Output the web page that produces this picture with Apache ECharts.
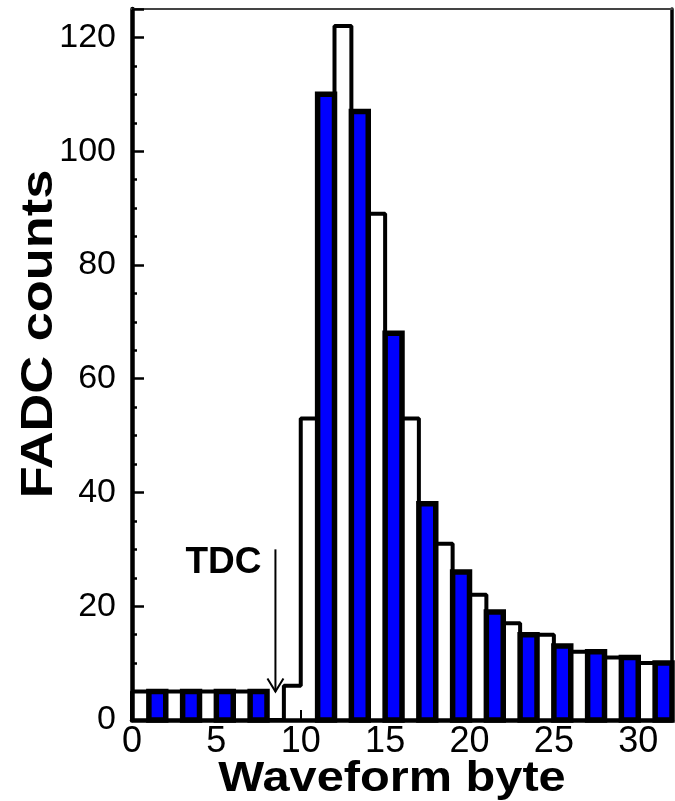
<!DOCTYPE html>
<html>
<head>
<meta charset="utf-8">
<style>
  html, body { margin: 0; padding: 0; background: #ffffff; }
  #chart { width: 675px; height: 801px; }
</style>
<script src="https://cdn.jsdelivr.net/npm/echarts@6/dist/echarts.min.js"></script>
</head>
<body>
<div id="chart"></div>
<script>
// ---- data ----
const binStarts = [0,1,2,3,4,5,6,7,8,9,10,11,12,13,14,15,16,17,18,19,20,21,22,23,24,25,26,27,28,29,30,31];
const counts    = [5,5,5,5,5,5,5,5,0,6,53,110,122,107,89,68,53,38,31,26,22,19,17,15,15,13,12,12,11,11,10,10];
const shaded    = [0,1,0,1,0,1,0,1,0,0,0,1,0,1,0,1,0,1,0,1,0,1,0,1,0,1,0,1,0,1,0,1];
const xTicks    = [0,5,10,15,20,25,30];
const yTicks    = [0,20,40,60,80,100,120];
const xTitle = 'Waveform byte';
const yTitle = 'FADC counts';
const tdcLabel = 'TDC';
const tdcX = 8.5, tdcTop = 30, tdcTip = 5;
const binWidth = 1;

const numFont = '"Liberation Sans", Arial, sans-serif';
const boldFont = '"Liberation Sans", Arial, sans-serif';

// step outline of the histogram built from the arrays
const stepData = [[binStarts[0], 0]];
binStarts.forEach((b, i) => stepData.push([b, counts[i]]));
const lastEdge = binStarts[binStarts.length - 1] + binWidth;
stepData.push([lastEdge, counts[counts.length - 1]]);
stepData.push([lastEdge, 0]);

const barData = binStarts.map((b, i) => [b, counts[i], shaded[i]]);

const chart = echarts.init(document.getElementById('chart'), null, { renderer: 'canvas' });

const option = {
  animation: false,
  backgroundColor: '#ffffff',
  grid: { left: 132, right: 3, top: 9, bottom: 81, outerBoundsMode: 'none', containLabel: false },
  xAxis: [
    {
      type: 'value', min: 0, max: 32, interval: 5,
      axisLine: { show: true, onZero: false, lineStyle: { color: '#000', width: 4.5 } },
      axisTick: { show: true, inside: true, length: 10, lineStyle: { color: '#000', width: 2 } },
      axisLabel: {
        show: true, margin: 4, fontSize: 36, color: '#000', fontFamily: numFont,
        formatter: v => (xTicks.indexOf(v) >= 0 ? String(v) : '')
      },
      splitLine: { show: false }
    },
    {
      type: 'value', min: 0, max: 32, position: 'top',
      axisLine: { show: true, onZero: false, lineStyle: { color: '#444', width: 2 } },
      axisTick: { show: false }, axisLabel: { show: false }, splitLine: { show: false }
    }
  ],
  yAxis: [
    {
      type: 'value', min: 0, max: 125, interval: 20,
      axisLine: { show: true, onZero: false, lineStyle: { color: '#000', width: 4.5 } },
      axisTick: { show: true, inside: true, length: 12, lineStyle: { color: '#000', width: 2.5 } },
      minorTick: { show: true, splitNumber: 4, length: 5, lineStyle: { color: '#000', width: 2.5 } },
      axisLabel: {
        show: true, margin: 16, fontSize: 34, color: '#000', fontFamily: numFont,
        formatter: v => (yTicks.indexOf(v) >= 0 ? String(v) : '')
      },
      splitLine: { show: false }, minorSplitLine: { show: false }
    },
    {
      type: 'value', min: 0, max: 125, position: 'right',
      axisLine: { show: true, onZero: false, lineStyle: { color: '#000', width: 3.5 } },
      axisTick: { show: false }, axisLabel: { show: false }, splitLine: { show: false }
    }
  ],
  series: [
    {
      type: 'custom', name: 'shaded bins', z: 2,
      data: barData,
      encode: { x: 0, y: 1 },
      renderItem: (params, api) => {
        const x = api.value(0), v = api.value(1), s = api.value(2);
        if (!s || v <= 0) return null;
        const p0 = api.coord([x, 0]);
        const p1 = api.coord([x + binWidth, v]);
        return {
          type: 'rect',
          shape: { x: p0[0], y: p1[1], width: p1[0] - p0[0], height: p0[1] - p1[1] },
          style: { fill: '#0000ff', stroke: '#000', lineWidth: 5.5 }
        };
      }
    },
    {
      type: 'line', name: 'outline', z: 3,
      data: stepData, step: 'end', showSymbol: false, symbol: 'none',
      lineStyle: { color: '#000', width: 4 },
      clip: false
    },
    {
      type: 'custom', name: 'TDC', z: 4,
      data: [[tdcX, tdcTop, tdcTip]],
      renderItem: (params, api) => {
        const top = api.coord([api.value(0), api.value(1)]);
        const tip = api.coord([api.value(0), api.value(2)]);
        return {
          type: 'group',
          children: [
            { type: 'line', shape: { x1: top[0], y1: top[1], x2: tip[0], y2: tip[1] }, style: { stroke: '#000', lineWidth: 2 } },
            { type: 'polyline', shape: { points: [[tip[0] - 8, tip[1] - 13], [tip[0], tip[1]], [tip[0] + 8, tip[1] - 13]] }, style: { stroke: '#000', lineWidth: 2, fill: null } },
            { type: 'text', style: { x: top[0] - 14, y: top[1] + 13, text: tdcLabel, fill: '#000', font: 'bold 37px ' + boldFont, align: 'right', verticalAlign: 'middle' } }
          ]
        };
      }
    }
  ],
  graphic: [
    { type: 'text', x: 392, y: 779, scaleX: 1.16, style: { text: xTitle, fill: '#000', font: 'bold 42px ' + boldFont, align: 'center', verticalAlign: 'middle' } },
    { type: 'text', x: 40, y: 334, rotation: Math.PI / 2, scaleX: 1.19, style: { text: yTitle, fill: '#000', font: 'bold 44px ' + boldFont, align: 'center', verticalAlign: 'middle' } }
  ]
};
chart.setOption(option);
</script>
</body>
</html>
